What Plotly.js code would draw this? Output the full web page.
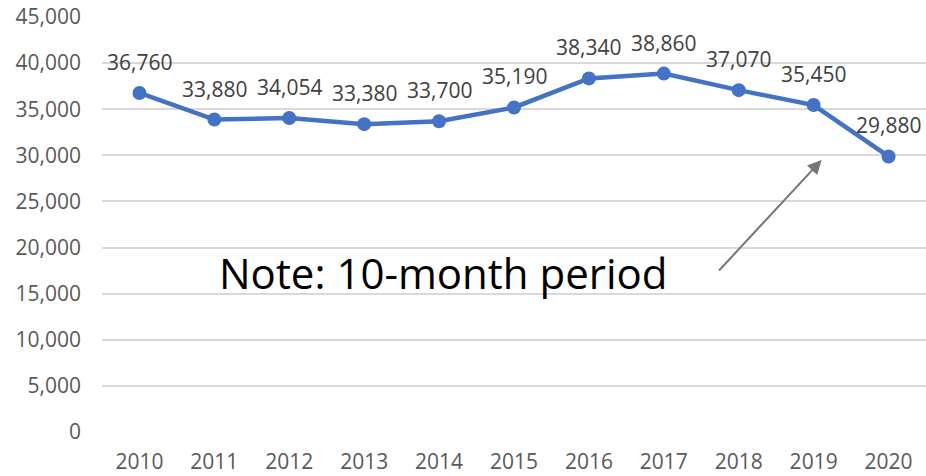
<!DOCTYPE html>
<html><head><meta charset="utf-8">
<script src="https://cdn.plot.ly/plotly-3.0.1.min.js"></script>
<style>html,body{margin:0;padding:0;background:#fff}#chart{width:926px;height:476px}</style>
</head><body><div id="chart"></div>
<script>
const years = ['2010','2011','2012','2013','2014','2015','2016','2017','2018','2019','2020'];
const values = [36760, 33880, 34054, 33380, 33700, 35190, 38340, 38860, 37070, 35450, 29880];
const valueLabels = ['36,760','33,880','34,054','33,380','33,700','35,190','38,340','38,860','37,070','35,450','29,880'];
const noteText = 'Note: 10-month period';

const FONT = 'Open Sans, sans-serif';
const trace = {
  x: years, y: values, type: 'scatter', mode: 'lines+markers',
  line: {color: '#4472C4', width: 4.5},
  marker: {color: '#4472C4', size: 14},
  hoverinfo: 'none'
};
const anns = years.map((yr, i) => ({
  x: i, y: values[i], xref: 'x', yref: 'y', text: valueLabels[i], showarrow: false,
  yshift: 31, font: {family: FONT, size: 21, color: '#404040'}
}));
anns.push({
  x: 9.107, y: 29494, xref: 'x', yref: 'y', text: '', showarrow: true,
  ax: -104, ay: 112, arrowcolor: '#767676', arrowwidth: 2, arrowhead: 2, arrowsize: 1.4
});
anns.push({
  x: (443-102)/824, y: (432-272)/415, xref: 'paper', yref: 'paper', text: noteText, showarrow: false,
  font: {family: FONT, size: 42, color: '#000000'}
});

const layout = {
  width: 926, height: 476,
  margin: {l: 102, r: 0, t: 17, b: 44},
  paper_bgcolor: '#ffffff', plot_bgcolor: '#ffffff',
  showlegend: false,
  font: {family: FONT, size: 21, color: '#595959'},
  xaxis: {type: 'category', range: [-0.5, 10.5], showgrid: false, zeroline: false, automargin: false,
          showline: false, ticks: '', ticklabelstandoff: 15,
          tickfont: {family: FONT, size: 21, color: '#595959'}},
  yaxis: {range: [0, 45000], dtick: 5000, tickformat: ',d', showgrid: true, automargin: false,
          gridcolor: '#d9d9d9', gridwidth: 2, zeroline: false, showline: false, ticks: '',
          ticklabelstandoff: 20,
          tickfont: {family: FONT, size: 21, color: '#595959'}},
  annotations: anns
};
Plotly.newPlot('chart', [trace], layout, {staticPlot: true});
</script></body></html>
